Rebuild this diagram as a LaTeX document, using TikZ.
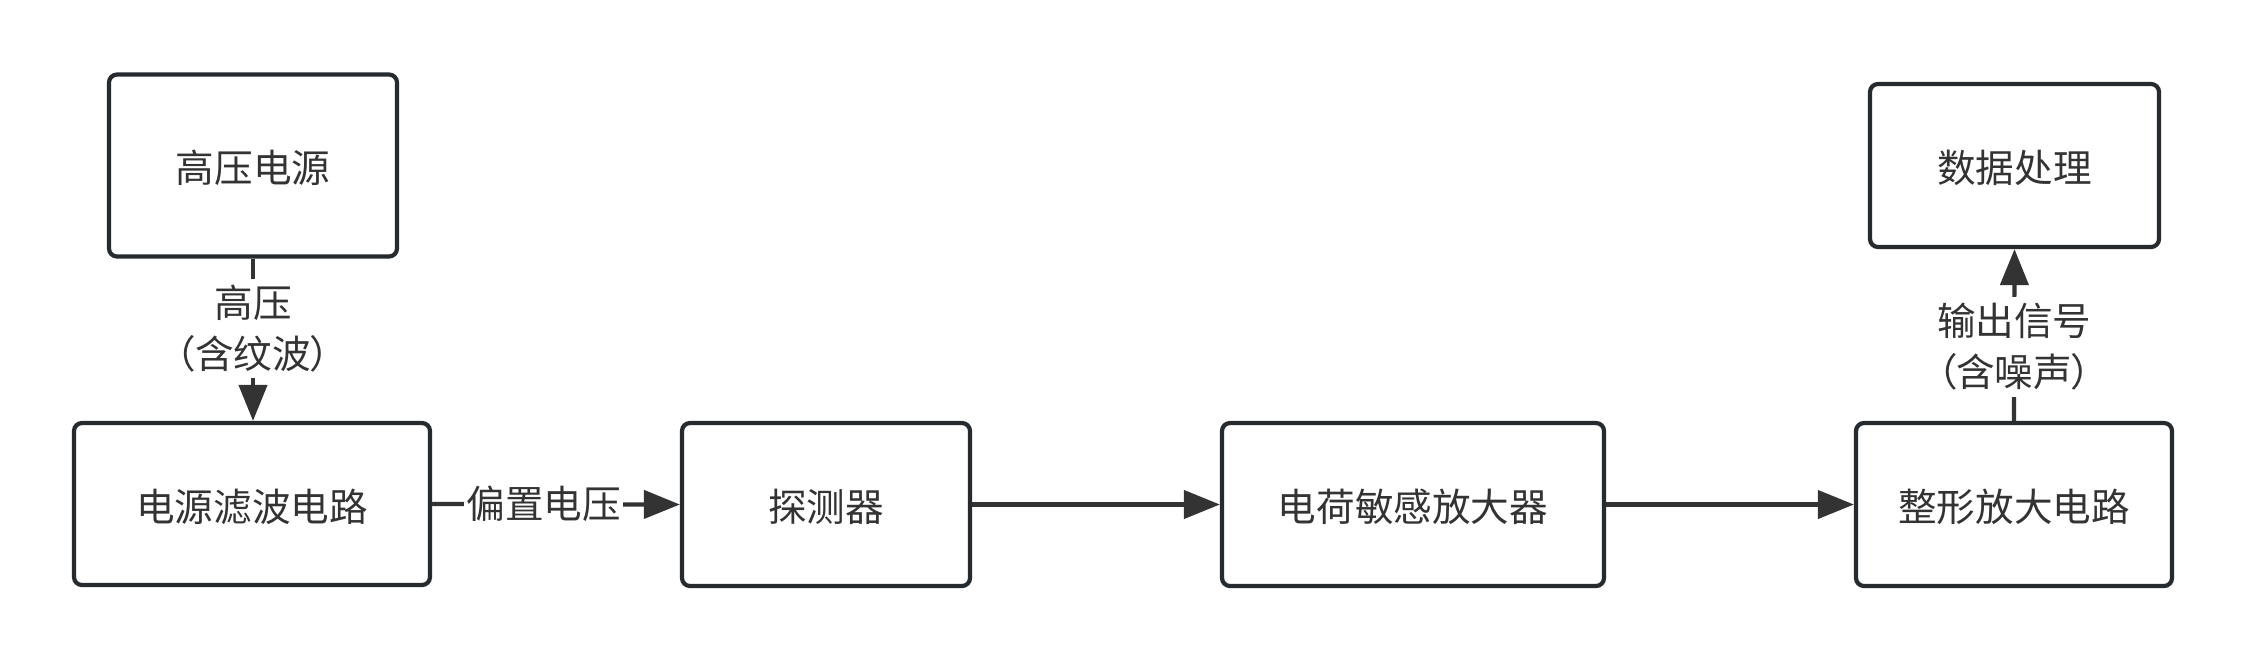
\documentclass[tikz,border=0pt]{standalone}
\usepackage{fontspec}
\newfontfamily\cjk{Noto Sans CJK SC}
\newfontfamily\cjkp[RawFeature=+palt]{Noto Sans CJK SC}
\usetikzlibrary{arrows.meta}
\definecolor{boxline}{HTML}{262B30}
\definecolor{arrowc}{HTML}{333333}
\begin{document}
\begin{tikzpicture}[x=0.5pt,y=-0.5pt,
  blk/.style={draw=boxline, line width=2.1pt, rounded corners=4pt, fill=white,
    font=\cjk\fontsize{19.3}{25.5}\selectfont, text=arrowc, inner sep=0pt,
    text height=1.7em, text depth=0pt},
  conn/.style={draw=arrowc, line width=2.1pt, -{Triangle[length=18pt,width=14pt]}},
  lbl/.style={fill=white, font=\cjk\fontsize{19.3}{25.5}\selectfont, text=arrowc,
    align=center, inner xsep=1pt, inner ysep=3pt}]
\useasboundingbox (0,0) rectangle (2246,660);
\node[blk, minimum width=144pt, minimum height=91pt] (hv) at (253,165.5) {高压电源};
\node[blk, minimum width=178pt, minimum height=81pt] (filt) at (252,504) {电源滤波电路};
\node[blk, minimum width=144pt, minimum height=81.5pt] (det) at (826,504.5) {探测器};
\node[blk, minimum width=191pt, minimum height=81.5pt] (csa) at (1413,504.5) {电荷敏感放大器};
\node[blk, minimum width=158pt, minimum height=81.5pt] (shp) at (2014,504.5) {整形放大电路};
\node[blk, minimum width=144.5pt, minimum height=81.5pt] (dp) at (2014.5,165.5) {数据处理};
\draw[conn] (hv.south) -- (hv.south |- filt.north)
  node[lbl, pos=0.43] {高压\\{\cjkp （}含纹波{\cjkp ）}};
\draw[conn] (filt.east) -- (det.west) node[lbl, pos=0.45, inner ysep=1pt] {偏置电压};
\draw[conn] (det.east) -- (csa.west);
\draw[conn] (csa.east) -- (shp.west);
\draw[conn] (shp.north) -- (dp.south)
  node[lbl, pos=0.43] {输出信号\\{\cjkp （}含噪声{\cjkp ）}};
\end{tikzpicture}
\end{document}
